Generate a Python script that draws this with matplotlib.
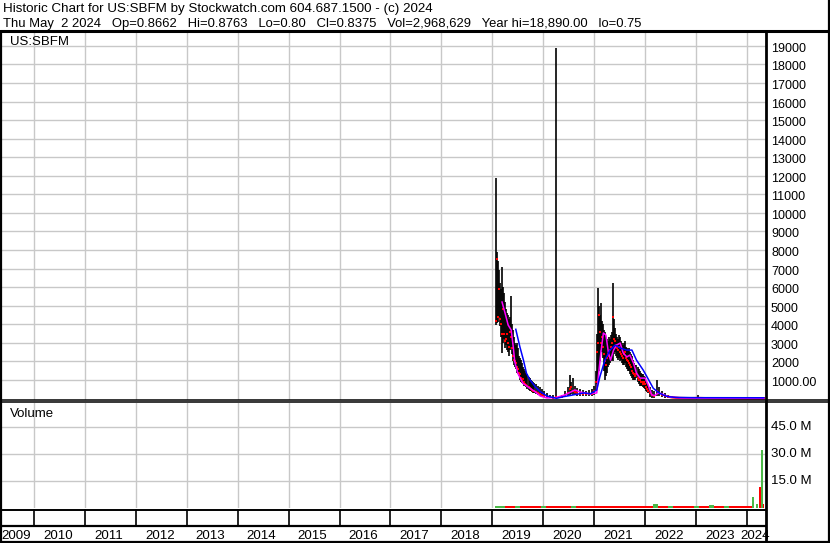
import matplotlib
matplotlib.use("Agg")
import matplotlib.pyplot as plt
from matplotlib.lines import Line2D
from matplotlib import transforms

plt.rcParams["font.family"] = ["Liberation Sans", "DejaVu Sans"]

W, H = 830, 543

# ---- data ----
header_1 = "Historic Chart for US:SBFM by Stockwatch.com 604.687.1500 - (c) 2024"
header_2 = ("Thu May  2 2024   Op=0.8662   Hi=0.8763   Lo=0.80   Cl=0.8375   "
            "Vol=2,968,629   Year hi=18,890.00   lo=0.75")
symbol = "US:SBFM"

years = list(range(2009, 2025))
price_ticks = [1000, 2000, 3000, 4000, 5000, 6000, 7000, 8000, 9000, 10000,
               11000, 12000, 13000, 14000, 15000, 16000, 17000, 18000, 19000]
vol_ticks = [15, 30, 45]

# price bars (decimal year, high, low, close)
bar_t = [
    # 2019 crash
    2019.07, 2019.09, 2019.11, 2019.13, 2019.15, 2019.17, 2019.19, 2019.21, 2019.23, 2019.25,
    2019.27, 2019.29, 2019.31, 2019.33, 2019.35, 2019.37, 2019.39, 2019.41, 2019.43, 2019.45,
    2019.47, 2019.49, 2019.51, 2019.53, 2019.55, 2019.57, 2019.59, 2019.61, 2019.63, 2019.65,
    2019.67, 2019.69, 2019.71, 2019.73, 2019.75, 2019.77, 2019.79, 2019.81,
    # 2019 end - 2020
    2019.85, 2019.89, 2019.93, 2019.97, 2020.01, 2020.07, 2020.13, 2020.19, 2020.25, 2020.31,
    2020.37, 2020.43, 2020.49, 2020.52, 2020.54, 2020.58, 2020.62, 2020.66, 2020.72, 2020.78,
    2020.84, 2020.90, 2020.96, 2021.00,
    # 2021 run
    2021.03, 2021.05, 2021.07, 2021.09, 2021.11, 2021.13, 2021.15, 2021.17, 2021.19, 2021.21,
    2021.23, 2021.25, 2021.27, 2021.29, 2021.31, 2021.33, 2021.35, 2021.37, 2021.39, 2021.41,
    2021.43, 2021.45, 2021.47, 2021.49, 2021.51, 2021.53, 2021.55, 2021.57, 2021.59, 2021.61,
    2021.63, 2021.65, 2021.67, 2021.69, 2021.71, 2021.73, 2021.75, 2021.77, 2021.79, 2021.81,
    2021.83, 2021.85, 2021.87, 2021.89, 2021.91, 2021.93, 2021.95, 2021.97, 2021.99,
    # 2022 onwards
    2022.01, 2022.03, 2022.05, 2022.09, 2022.13, 2022.17, 2022.23, 2022.27, 2022.33, 2022.39,
    2022.45, 2022.53, 2022.68, 2022.88, 2023.04, 2023.27, 2023.47, 2023.67, 2023.86, 2024.06,
    2024.25, 2024.33,
]
bar_hi = [
    11900, 7900, 7400, 6900, 6200, 5900, 7100, 6000, 5700, 5200,
    4800, 4600, 4500, 4300, 4400, 5500, 4000, 3700, 3300, 3000,
    2900, 3000, 2700, 2300, 2200, 2100, 1900, 1700, 1600, 1500,
    1400, 1300, 1150, 1100, 1000, 950, 900, 850,
    800, 700, 600, 500, 400, 300, 200, 180, 18890, 150,
    200, 400, 600, 1270, 900, 1100, 700, 550, 500, 450,
    400, 450, 500, 700,
    1500, 3500, 5950, 5000, 4500, 5150, 4200, 4000, 3700, 3600,
    3300, 3200, 3100, 3300, 3200, 3400, 3600, 6220, 4300, 3800,
    3500, 3300, 3200, 3400, 3300, 3100, 3000, 2900, 3000, 3100,
    2800, 2700, 2600, 2700, 2500, 2400, 2300, 2100, 1900, 1800,
    1800, 1700, 1600, 1500, 1400, 1300, 1300, 1200, 1150,
    900, 800, 700, 600, 450, 400, 1000, 600, 400, 300,
    200, 150, 80, 60, 200, 60, 50, 40, 30, 20,
    20, 20,
]
bar_lo = [
    3960, 4070, 4100, 4400, 3900, 3300, 2450, 3000, 3200, 2700,
    2900, 2600, 2500, 2300, 2600, 2800, 2400, 2000, 1800, 1700,
    1600, 1400, 1300, 1200, 1000, 900, 850, 800, 700, 650,
    600, 500, 450, 400, 380, 330, 300, 280,
    250, 200, 150, 100, 80, 30, 20, 15, 20, 20,
    30, 100, 150, 200, 250, 200, 200, 150, 150, 150,
    150, 150, 150, 200,
    450, 800, 1000, 1500, 2000, 2600, 2500, 2200, 1500, 1000,
    1200, 1400, 1700, 1800, 1900, 2000, 2100, 2000, 2400, 2500,
    2300, 2200, 2100, 2200, 2000, 2100, 1900, 1800, 1800, 1900,
    1700, 1600, 1500, 1500, 1300, 1200, 1100, 1000, 1000, 1000,
    1100, 900, 800, 700, 700, 650, 600, 550, 500,
    400, 350, 300, 100, 50, 50, 150, 150, 100, 50,
    30, 20, 10, 5, 5, 5, 5, 3, 2, 1,
    1, 1,
]
bar_cl = [
    4200, 7500, 4400, 5900, 4300, 4000, 3500, 4800, 3500, 3100,
    3200, 3500, 3000, 2800, 3600, 3300, 2700, 2300, 2100, 2000,
    1900, 1700, 1600, 1400, 1300, 1100, 1000, 1050, 900, 800,
    750, 700, 600, 550, 500, 450, 400, 380,
    350, 300, 250, 200, 150, 80, 60, 50, 60, 60,
    80, 200, 300, 500, 600, 400, 350, 300, 250, 250,
    250, 220, 250, 400,
    900, 2500, 3000, 4500, 3600, 3000, 3300, 2800, 2400, 2000,
    1800, 2200, 2400, 2300, 2600, 2800, 3000, 4400, 3200, 3100,
    2900, 2700, 2600, 2800, 2500, 2400, 2300, 2200, 2400, 2500,
    2200, 2100, 2000, 1900, 1800, 1700, 1500, 1400, 1300, 1200,
    1300, 1100, 1000, 1000, 900, 900, 800, 900, 800,
    600, 500, 400, 300, 200, 150, 400, 300, 200, 150,
    100, 60, 30, 20, 30, 15, 10, 8, 5, 2,
    1, 1,
]

# short moving average (magenta)
fast_t = [2019.19, 2019.25, 2019.31, 2019.37, 2019.41, 2019.44, 2019.50, 2019.60, 2019.74,
          2019.84, 2019.94, 2020.07, 2020.25, 2020.43, 2020.62, 2020.72, 2020.92, 2021.05,
          2021.08, 2021.13, 2021.18, 2021.23, 2021.28, 2021.32, 2021.38, 2021.44, 2021.51,
          2021.57, 2021.64, 2021.70, 2021.77, 2021.83, 2021.90, 2022.00, 2022.06, 2022.13,
          2022.19, 2022.26, 2022.33, 2022.42, 2022.49, 2022.70, 2023.00, 2024.33]
fast_v = [5200, 4600, 3960, 3690, 2790, 1980, 1360, 820, 550,
          370, 135, 30, 50, 200, 460, 350, 250, 300,
          1160, 2450, 3530, 3420, 2450, 2070, 2610, 2880, 2990,
          2450, 2240, 2340, 1920, 1370, 1100, 1100, 730, 190,
          160, 300, 250, 130, 80, 30, 20, 1]

# long moving average (blue)
slow_t = [2019.46, 2019.54, 2019.61, 2019.67, 2019.74, 2019.84, 2019.94, 2020.07, 2020.26,
          2020.40, 2020.60, 2020.80, 2020.92, 2021.05, 2021.11, 2021.21, 2021.31, 2021.41,
          2021.51, 2021.64, 2021.74, 2021.83, 2021.96, 2022.03, 2022.10, 2022.16, 2022.23,
          2022.29, 2022.36, 2022.45, 2022.60, 2023.00, 2024.33]
slow_v = [3730, 2790, 2075, 1360, 1000, 640, 370, 135, 10,
          100, 200, 300, 250, 460, 1160, 2070, 2610, 2880,
          2720, 2610, 2610, 2070, 1540, 1200, 850, 550, 400,
          280, 180, 100, 60, 45, 40]

# volume, millions (up=True drawn green)
vol_t = [2019.1, 2019.2, 2019.3, 2019.4, 2019.5, 2019.6, 2019.7, 2019.8, 2019.9, 2020.0,
         2020.1, 2020.2, 2020.3, 2020.4, 2020.5, 2020.6, 2020.7, 2020.8, 2020.9, 2021.0,
         2021.1, 2021.2, 2021.3, 2021.4, 2021.5, 2021.6, 2021.7, 2021.8, 2021.9, 2022.0,
         2022.1, 2022.2, 2022.3, 2022.4, 2022.5, 2022.6, 2022.7, 2022.8, 2022.9, 2023.0,
         2023.1, 2023.2, 2023.3, 2023.4, 2023.5, 2023.6, 2023.7, 2023.8, 2023.9, 2024.0,
         2024.05]
vol_m = [1.3, 1.2, 1.1, 1.2, 1.1, 1.2, 1.1, 1.1, 1.1, 1.1,
         1.2, 1.1, 1.2, 1.1, 1.2, 1.1, 1.1, 1.2, 1.1, 1.2,
         1.3, 1.2, 1.2, 1.1, 1.2, 1.1, 1.2, 1.2, 1.1, 1.1,
         1.2, 2.3, 1.4, 1.1, 1.1, 1.1, 1.1, 1.1, 1.1, 1.1,
         1.1, 1.1, 1.9, 1.1, 1.1, 1.1, 1.1, 1.1, 1.1, 1.1,
         1.1]
vol_up = [True, True, False, False, True, False, False, False, False, True,
          False, False, False, False, False, True, False, False, False, False,
          False, False, False, False, False, False, False, False, False, False,
          False, True, False, False, True, False, False, False, False, True,
          False, False, True, False, False, True, False, False, False, False,
          False]

# the last few sessions
spike_t = [2024.12, 2024.20, 2024.26, 2024.29, 2024.32]
spike_m = [6.1, 2.7, 11.8, 32.3, 2.7]
spike_up = [True, True, False, True, False]

# ---- drawing ----
GRID = "#c8c8c8"
GREEN = "#4cb848"
RED = "#ff0000"
X0, X1 = 2009.372, 2024.373

fig = plt.figure(figsize=(W / 100, H / 100), dpi=100)
fig.patch.set_facecolor("white")


def box(top, bottom, left=2, right=766):
    return [left / W, 1 - bottom / H, (right - left) / W, (bottom - top) / H]


def rule(x0, y0, x1, y1, lw=1.5):
    fig.add_artist(Line2D([x0 / W, x1 / W], [1 - y0 / H, 1 - y1 / H],
                          color="black", lw=lw, solid_capstyle="butt"))


def clean(a):
    for s in a.spines.values():
        s.set_visible(False)
    a.tick_params(length=0, labelleft=False, labelbottom=False)
    a.set_xlim(X0, X1)
    a.set_xticks(years[1:])


# price panel
ax = fig.add_axes(box(32, 400))
clean(ax)
ax.set_ylim(-80, 19750)
ax.set_yticks(price_ticks)
ax.grid(color=GRID, lw=1.0)
ax.set_axisbelow(True)

ax.vlines(bar_t, bar_lo, bar_hi, color="black", lw=1.2)
ax.plot(bar_t, bar_cl, ls="none", marker="s", ms=1.6, mew=0, color=RED)
tail = [i for i, t in enumerate(bar_t) if t >= 2022.45]
ax.plot([bar_t[i] for i in tail], [bar_cl[i] for i in tail], color=RED, lw=1.6)
ax.plot(fast_t, fast_v, color="#ff00ff", lw=1.1)
ax.plot(slow_t, slow_v, color="#0000ff", lw=1.1)

ax.text(0.01, 0.972, symbol, transform=ax.transAxes, fontsize=9.5, va="center")

lab = transforms.offset_copy(transforms.blended_transform_factory(ax.transAxes, ax.transData),
                             fig=fig, x=5, y=-3, units="dots")
for v in price_ticks:
    s = "1000.00" if v == 1000 else str(v)
    ax.text(1.0, v, s, transform=lab, fontsize=9, va="center", ha="left", clip_on=False)

# volume panel (bars rise from the panel floor)
axv = fig.add_axes(box(403, 508.4))
clean(axv)
axv.set_ylim(0, 58.3)
axv.set_yticks(vol_ticks)
axv.grid(color=GRID, lw=1.0)
axv.set_axisbelow(True)
axv.bar(vol_t, vol_m, width=0.1, color=[GREEN if u else RED for u in vol_up], lw=0)
axv.bar(spike_t, spike_m, width=0.03, color=[GREEN if u else RED for u in spike_up], lw=0)
axv.text(0.01, 0.9, "Volume", transform=axv.transAxes, fontsize=9.5, va="center")

vlab = transforms.offset_copy(transforms.blended_transform_factory(axv.transAxes, axv.transData),
                              fig=fig, x=5, y=0, units="dots")
for v in vol_ticks:
    axv.text(1.0, v, f"{v:.1f} M", transform=vlab, fontsize=9.5, va="center", ha="left",
             clip_on=False)

# year strip and labels
axy = fig.add_axes(box(509, 526))
clean(axy)
axy.set_ylim(0, 1)
axy.vlines(years[1:], 0, 1, color="black", lw=1.2)

axl = fig.add_axes(box(526, 541))
clean(axl)
axl.set_ylim(0, 1)
for y in years:
    lo, hi = max(y, X0), min(y + 1, X1)
    axl.text((lo + hi) / 2 - 0.03, 0.33, str(y), fontsize=9.6, ha="center", va="center")

# header
fig.text(3 / W, 1 - 9 / H, header_1, fontsize=9.6, va="center")
fig.text(3 / W, 1 - 23.5 / H, header_2, fontsize=9.4, va="center")

# frame lines
rule(0, 30.5, 830, 30.5, 2.2)
rule(1, 30, 1, 543, 1.6)
rule(828.5, 0, 828.5, 543, 1.6)
rule(765.5, 30, 765.5, 543, 2.0)
rule(0, 399.8, 830, 399.8, 1.1)
rule(0, 402.3, 830, 402.3, 1.1)
rule(0, 509.6, 766, 509.6, 1.4)
rule(0, 526.3, 766, 526.3, 1.6)
rule(0, 541.8, 830, 541.8, 1.6)

fig.savefig("out.png", dpi=100)
